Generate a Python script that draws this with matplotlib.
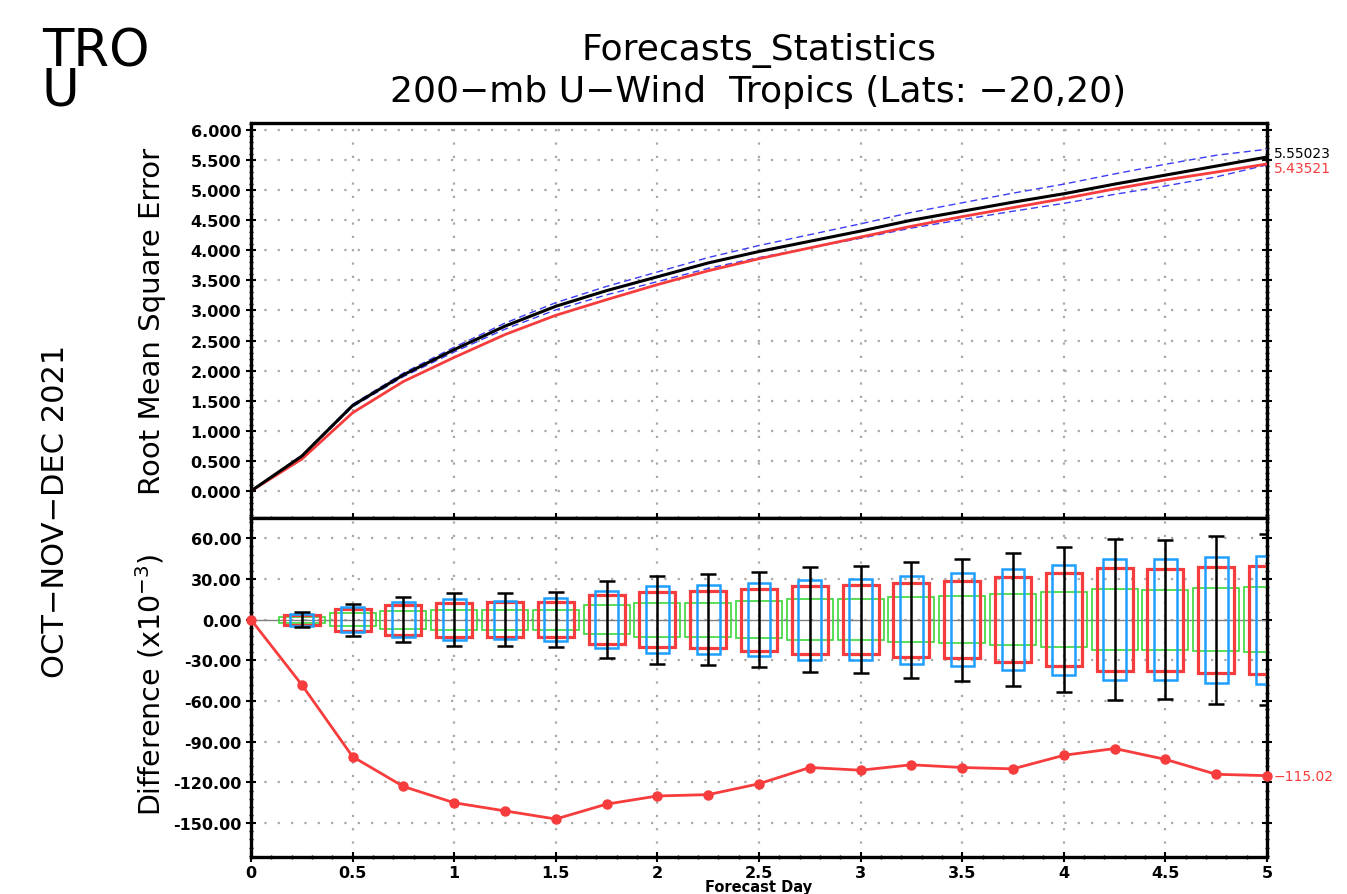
import numpy as np
import matplotlib
matplotlib.use("Agg")
import matplotlib.pyplot as plt
from matplotlib.patches import Rectangle
from matplotlib.ticker import MultipleLocator, FormatStrFormatter

# ---------------- data ----------------
lead_days = [0, 0.25, 0.5, 0.75, 1.0, 1.25, 1.5, 1.75, 2.0, 2.25, 2.5, 2.75,
             3.0, 3.25, 3.5, 3.75, 4.0, 4.25, 4.5, 4.75, 5.0]

rmse_black = [0.0, 0.58, 1.42, 1.93, 2.35, 2.74, 3.07, 3.33, 3.56, 3.79, 3.98,
              4.15, 4.32, 4.50, 4.65, 4.80, 4.94, 5.10, 5.25, 5.40, 5.55023]
rmse_red = [0.0, 0.53, 1.30, 1.82, 2.22, 2.60, 2.92, 3.18, 3.43, 3.66, 3.86,
            4.04, 4.22, 4.40, 4.56, 4.71, 4.86, 5.02, 5.17, 5.30, 5.43521]
rmse_blue_hi = [0.0, 0.59, 1.44, 1.96, 2.39, 2.79, 3.13, 3.40, 3.64, 3.88, 4.08,
                4.26, 4.44, 4.63, 4.79, 4.95, 5.10, 5.27, 5.43, 5.58, 5.68]
rmse_blue_lo = [0.0, 0.57, 1.40, 1.90, 2.31, 2.69, 3.01, 3.26, 3.48, 3.70, 3.88,
                4.04, 4.20, 4.37, 4.51, 4.65, 4.78, 4.93, 5.07, 5.22, 5.42]

diff_red = [0.0, -48, -101, -123, -135, -141, -147, -136, -130, -129, -121,
            -109, -111, -107, -109, -110, -100, -95, -103, -114, -115.02]

box_days = lead_days[1:]
err_half = [5.7, 11.7, 16.8, 19.4, 19.4, 20.5, 28.3, 32.5, 33.4, 35.2, 38.7,
            39.3, 42.7, 45.0, 49.1, 53.5, 59.2, 58.5, 61.9, 63.0]
red_half = [3.7, 8.2, 11.0, 12.5, 12.9, 13.0, 18.2, 20.5, 20.9, 23.0, 25.0,
            25.4, 27.3, 28.6, 31.3, 34.1, 37.8, 37.6, 39.0, 39.8]
blue_half = [4.3, 9.2, 12.9, 15.0, 14.0, 15.7, 21.1, 24.6, 25.4, 26.8, 29.5,
             29.7, 32.4, 34.1, 37.1, 40.5, 44.7, 44.4, 46.4, 47.2]
green_half = [2.2, 4.7, 6.5, 7.5, 7.4, 7.4, 10.7, 12.5, 12.5, 13.5, 15.0,
              15.1, 16.5, 17.2, 18.7, 20.5, 22.5, 22.2, 23.3, 23.8]

rmse_ticks = np.arange(0, 6.01, 0.5)
diff_ticks = np.arange(-150, 61, 30)
x_ticks = np.arange(0, 5.01, 0.5)
x_ticklabels = ["0", "0.5", "1", "1.5", "2", "2.5", "3", "3.5", "4", "4.5", "5"]

# ---------------- style ----------------
W, H = 1347, 895
fig = plt.figure(figsize=(W / 100, H / 100), dpi=100)

RED = "#f63c3c"
BLUE = "#1e9fff"
GREEN = "#3cd83c"
DBLUE = "#3c3cf5"
GRID = "#a8a8a8"

def fx(px):
    return px / W

def fy(py):
    return 1 - py / H

ax1 = fig.add_axes([fx(251), fy(519), fx(1267) - fx(251), fy(124) - fy(519)])
ax2 = fig.add_axes([fx(251), fy(858), fx(1267) - fx(251), fy(519) - fy(858)])

tickfont = dict(family="DejaVu Sans", weight="bold", size=11.5)

for ax in (ax1, ax2):
    ax.set_xlim(0, 5)
    ax.set_xticks(x_ticks)
    ax.xaxis.set_minor_locator(MultipleLocator(0.1))
    ax.grid(True, which="major", color=GRID, linestyle=(0, (1, 5)), linewidth=1.6)
    for s in ax.spines.values():
        s.set_linewidth(2.4)
        s.set_color("black")
    ax.tick_params(which="major", direction="inout", length=7, width=1.5,
                   left=True, right=True, bottom=True, top=False)
    ax.tick_params(which="minor", direction="inout", length=3, width=1,
                   left=True, right=True, bottom=True, top=False)
    ax.set_axisbelow(True)

# ----- top panel -----
ax1.set_ylim(-0.449, 6.116)
ax1.set_yticks(rmse_ticks)
ax1.yaxis.set_minor_locator(MultipleLocator(0.1))
ax1.yaxis.set_major_formatter(FormatStrFormatter("%.3f"))
ax1.tick_params(axis="x", labelbottom=False)
for lab in ax1.get_yticklabels():
    lab.set(**tickfont)

ax1.plot(lead_days, rmse_blue_hi, color=DBLUE, lw=1.0, ls=(0, (5, 3)), zorder=3)
ax1.plot(lead_days, rmse_blue_lo, color=DBLUE, lw=1.0, ls=(0, (5, 3)), zorder=3)
ax1.plot(lead_days, rmse_red, color=RED, lw=2.0, zorder=4)
ax1.plot(lead_days, rmse_black, color="black", lw=2.2, zorder=5)

ax1.annotate(f"{rmse_black[-1]:.5f}", xy=(1.0, rmse_black[-1]), xycoords=("axes fraction", "data"),
             xytext=(5, 3), textcoords="offset points", color="black",
             fontsize=10, family="DejaVu Sans", va="center", ha="left", annotation_clip=False)
ax1.annotate(f"{rmse_red[-1]:.5f}", xy=(1.0, rmse_red[-1]), xycoords=("axes fraction", "data"),
             xytext=(5, -3), textcoords="offset points", color=RED,
             fontsize=10, family="DejaVu Sans", va="center", ha="left", annotation_clip=False)

# ----- bottom panel -----
ax2.set_ylim(-175, 75)
ax2.set_yticks(diff_ticks)
ax2.yaxis.set_minor_locator(MultipleLocator(6))
ax2.yaxis.set_major_formatter(FormatStrFormatter("%.2f"))
ax2.set_xticklabels(x_ticklabels)
ax2.tick_params(axis="x", which="major", pad=2)
for lab in ax2.get_yticklabels() + ax2.get_xticklabels():
    lab.set(**tickfont)

ax2.axhline(0, color="#808080", lw=1.0, zorder=2)

for d, gh, rh, bh, eh in zip(box_days, green_half, red_half, blue_half, err_half):
    ax2.add_patch(Rectangle((d - 0.113, -gh), 0.226, 2 * gh, fill=False,
                            edgecolor=GREEN, lw=1.2, zorder=3))
    ax2.add_patch(Rectangle((d - 0.089, -rh), 0.178, 2 * rh, fill=False,
                            edgecolor=RED, lw=2.3, zorder=4))
    ax2.add_patch(Rectangle((d - 0.056, -bh), 0.112, 2 * bh, fill=False,
                            edgecolor=BLUE, lw=1.8, zorder=5))
ax2.errorbar(box_days, [0] * len(box_days), yerr=err_half, fmt="none",
             ecolor="black", elinewidth=1.8, capsize=6, capthick=1.8, zorder=6)

ax2.plot(lead_days, diff_red, color=RED, lw=2.0, marker="o", ms=6.5,
         markeredgecolor=RED, zorder=7, clip_on=False)
ax2.annotate(f"{diff_red[-1]:.2f}".replace("-", "\u2212"), xy=(1.0, diff_red[-1]),
             xycoords=("axes fraction", "data"), xytext=(5, 0), textcoords="offset points",
             color=RED, fontsize=10, family="DejaVu Sans", va="center", ha="left",
             annotation_clip=False)

# ----- text -----
fig.text(fx(759), fy(50), "Forecasts_Statistics", ha="center", va="center",
         fontsize=26, family="DejaVu Sans")
fig.text(fx(758), fy(92), "200\u2212mb U\u2212Wind  Tropics (Lats: \u221220,20)",
         ha="center", va="center", fontsize=26, family="DejaVu Sans")
fig.text(fx(42), fy(72), "TRO\nU", ha="left", va="center", multialignment="left",
         linespacing=0.72, fontsize=37, family="DejaVu Sans")

fig.text(fx(152), fy(321), "Root Mean Square Error", rotation=90, ha="center",
         va="center", fontsize=21, family="DejaVu Sans")
fig.text(fx(150), fy(685), "Difference (x10$^{-3}$)", rotation=90, ha="center",
         va="center", fontsize=20.5, family="DejaVu Sans")
fig.text(fx(56), fy(511), "OCT\u2212NOV\u2212DEC 2021", rotation=90, ha="center",
         va="center", fontsize=22, family="DejaVu Sans")
fig.text(fx(759), fy(888), "Forecast Day", ha="center", va="center",
         fontsize=10.5, weight="bold", family="DejaVu Sans")

fig.savefig("out.png", dpi=100)
